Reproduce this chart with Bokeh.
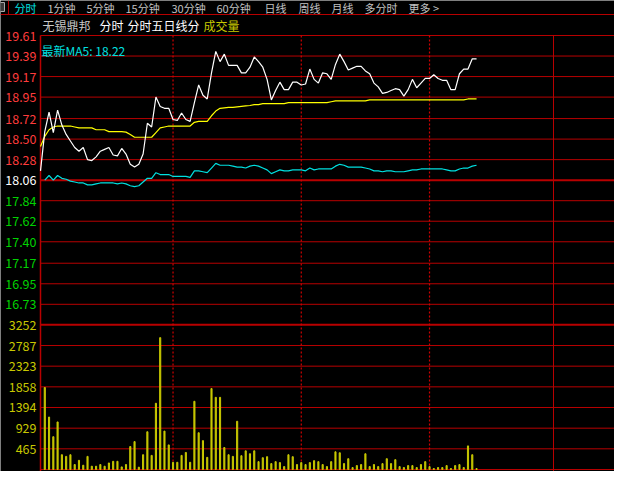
from bokeh.plotting import figure
from bokeh.models import Range1d
from bokeh.core.properties import value
from bokeh.embed import file_html
from bokeh.resources import INLINE

# ---- data ----
stock_name = "无锡鼎邦"
tabs = ["分时", "1分钟", "5分钟", "15分钟", "30分钟", "60分钟", "日线", "周线", "月线", "多分时", "更多 >"]
prev_close = 18.06

price_labels = ["19.61", "19.39", "19.17", "18.95", "18.72", "18.50", "18.28",
                "18.06", "17.84", "17.62", "17.40", "17.17", "16.95", "16.73"]
vol_labels = ["3252", "2787", "2323", "1858", "1394", "929", "465"]

# one point every 2 minutes, slot 0 = open
price = [18.16, 18.58, 18.79, 18.57, 18.81, 18.65, 18.55, 18.48, 18.41, 18.37,
         18.41, 18.28, 18.27, 18.31, 18.37, 18.39, 18.41, 18.33, 18.32, 18.40,
         18.34, 18.23, 18.20, 18.23, 18.34, 18.67, 18.63, 18.95, 18.85, 18.83,
         18.83, 18.71, 18.70, 18.78, 18.71, 18.69, 18.89, 19.08, 18.97, 18.93,
         19.21, 19.44, 19.33, 19.41, 19.29, 19.29, 19.29, 19.21, 19.21, 19.27,
         19.38, 19.33, 19.27, 19.14, 18.92, 19.02, 19.11, 19.03, 19.03, 19.11,
         19.11, 19.08, 19.09, 19.25, 19.14, 19.10, 19.21, 19.20, 19.14, 19.30,
         19.41, 19.33, 19.24, 19.26, 19.28, 19.28, 19.23, 19.20, 19.10, 19.06,
         18.99, 19.00, 19.02, 19.04, 19.03, 18.96, 19.03, 19.14, 19.05, 19.10,
         19.15, 19.15, 19.19, 19.15, 19.13, 19.13, 19.03, 19.03, 19.20, 19.25,
         19.25, 19.36, 19.36]

avg_price = [18.42, 18.53, 18.60, 18.63, 18.64, 18.64, 18.64, 18.64, 18.63, 18.62,
             18.62, 18.62, 18.62, 18.60, 18.60, 18.60, 18.58, 18.58, 18.58, 18.58,
             18.575, 18.55, 18.52, 18.52, 18.52, 18.52, 18.52, 18.57, 18.62, 18.63,
             18.64, 18.64, 18.64, 18.64, 18.64, 18.64, 18.68, 18.69, 18.69, 18.69,
             18.75, 18.80, 18.83, 18.835, 18.84, 18.84, 18.845, 18.85, 18.855, 18.86,
             18.87, 18.87, 18.88, 18.88, 18.88, 18.88, 18.88, 18.88, 18.89, 18.89,
             18.89, 18.89, 18.89, 18.89, 18.89, 18.89, 18.89, 18.89, 18.90, 18.91,
             18.91, 18.91, 18.91, 18.91, 18.91, 18.91, 18.91, 18.92, 18.92, 18.92,
             18.92, 18.92, 18.92, 18.92, 18.92, 18.92, 18.92, 18.92, 18.92, 18.92,
             18.92, 18.92, 18.92, 18.92, 18.92, 18.92, 18.92, 18.92, 18.92, 18.92,
             18.93, 18.93, 18.93]

# MA5 line, starts at slot 1
ma5 = [18.06, 18.11, 18.06, 18.11, 18.08, 18.07, 18.05, 18.04, 18.03, 18.03,
       18.01, 18.01, 18.02, 18.03, 18.03, 18.03, 18.03, 18.02, 18.03, 18.02,
       18.00, 17.99, 18.00, 18.04, 18.08, 18.08, 18.14, 18.12, 18.12, 18.12,
       18.10, 18.10, 18.10, 18.10, 18.09, 18.16, 18.16, 18.15, 18.14, 18.19,
       18.24, 18.22, 18.22, 18.22, 18.21, 18.20, 18.20, 18.19, 18.21, 18.22,
       18.21, 18.19, 18.17, 18.13, 18.15, 18.17, 18.16, 18.16, 18.17, 18.17,
       18.17, 18.16, 18.19, 18.17, 18.18, 18.18, 18.18, 18.18, 18.21, 18.23,
       18.22, 18.20, 18.20, 18.20, 18.20, 18.19, 18.18, 18.16, 18.16, 18.15,
       18.16, 18.16, 18.15, 18.15, 18.15, 18.16, 18.17, 18.17, 18.18, 18.18,
       18.18, 18.18, 18.18, 18.18, 18.17, 18.16, 18.16, 18.18, 18.19, 18.19,
       18.21, 18.22]

# volume, slots 1..102
volume = [1843, 1179, 737, 1069, 332, 295, 332, 111, 206, 96,
          295, 74, 74, 111, 74, 147, 184, 184, 59, 111,
          516, 627, 52, 332, 848, 317, 1489, 2964, 863, 553,
          162, 162, 317, 383, 162, 1533, 826, 649, 273, 1821,
          1622, 1622, 494, 332, 295, 1084, 310, 420, 354, 420,
          177, 265, 288, 133, 177, 155, 66, 332, 288, 111,
          155, 111, 155, 199, 177, 111, 66, 177, 398, 376,
          133, 243, 44, 88, 111, 354, 66, 111, 66, 133,
          243, 133, 221, 66, 44, 88, 88, 44, 111, 177,
          66, 22, 44, 44, 88, 22, 88, 111, 44, 531,
          332, 22]

# ---- layout ----
W, H = 614, 471
left_px, top_px, base_px = 40, 35, 469
slot_px = 4.275
row_px = (base_px - top_px) / 21.0
p_top = float(price_labels[0])
p_step = (p_top - prev_close) / 7
v_step = float(vol_labels[0]) / 7
sessions = [31, 61, 91]
day_end = 120

def px_x(cx):
    return (cx - left_px) / slot_px

def px_y(cy):
    return p_top - (cy - top_px) * p_step / row_px

RED = "#b80000"
FONT = value("Noto Sans CJK SC")

p = figure(width=W, height=H, output_backend="svg", toolbar_location=None,
           x_range=Range1d(px_x(0), px_x(W)), y_range=Range1d(px_y(H), px_y(0)),
           x_axis_location=None, y_axis_location=None, min_border=0,
           background_fill_color="#000000", border_fill_color="#000000",
           outline_line_color=None)
p.grid.visible = False
p.extra_y_ranges = {"vol": Range1d(-(H - base_px) * v_step / row_px,
                                   base_px * v_step / row_px)}

# grid
p_levels = [float(s) for s in price_labels]
p.segment(x0=0, x1=px_x(W), y0=p_levels, y1=p_levels, line_color=RED,
          line_width=[2 if abs(v - prev_close) < 1e-6 else 1 for v in p_levels])
v_levels = [float(s) for s in vol_labels] + [0]
p.segment(x0=0, x1=px_x(W), y0=v_levels, y1=v_levels, line_color=RED,
          line_width=[2] + [1] * (len(v_levels) - 1), y_range_name="vol")
p.segment(x0=[0, day_end], x1=[0, day_end], y0=p_top, y1=px_y(H),
          line_color=RED, line_width=[1.5, 1])
for s in sessions:
    p.line(x=[s, s], y=[p_top, px_y(base_px)], line_color="#d00000",
           line_width=1.2, line_dash="2 2")

# tab bar
p.segment(x0=px_x(0), x1=px_x(W), y0=px_y(14), y1=px_y(14), line_color=RED, line_width=1)
p.segment(x0=px_x(8), x1=px_x(8), y0=px_y(0), y1=px_y(14), line_color=RED, line_width=1)
p.quad(left=px_x(-6), right=px_x(4), top=px_y(2), bottom=px_y(11),
       fill_color="#3c3c3c", line_color="#a8a8a8", line_width=1)
tab_x = [14, 47, 86, 125, 171, 216, 264, 298, 331, 364, 408]
p.text(x=[px_x(v) for v in tab_x], y=px_y(7), text=tabs,
       text_color=["#00e0e0"] + ["#c0c0c0"] * (len(tabs) - 1),
       text_font=FONT, text_font_size="11px", text_baseline="middle")

# header
p.text(x=[px_x(v) for v in [42, 99, 127, 203]], y=px_y(25),
       text=[stock_name, "分时", "分时五日线分", "成交量"],
       text_color=["#c8c8c8", "#ffffff", "#ffffff", "#c8c800"],
       text_font=FONT, text_font_size="12px", text_baseline="middle")
p.text(x=px_x(41), y=px_y(top_px + 15 * row_px / 21), text=["最新MA5: %.2f" % ma5[-1]],
       text_color="#00e0e0", text_font=FONT, text_font_size="12px", text_baseline="middle")

# axis labels
p_colors = ["#ff3c3c" if v > prev_close + 1e-6 else ("#ffffff" if v > prev_close - 1e-6 else "#00d200")
            for v in p_levels]
p.text(x=px_x(36), y=p_levels, text=price_labels, text_color=p_colors,
       text_font=FONT, text_font_size="12.5px", text_align="right", text_baseline="middle")
p.text(x=px_x(36), y=[float(s) for s in vol_labels], text=vol_labels, text_color="#c8c800",
       text_font=FONT, text_font_size="12.5px", text_align="right", text_baseline="middle",
       y_range_name="vol")

# volume
p.vbar(x=list(range(1, len(volume) + 1)), top=volume, bottom=0, width=0.26,
       color="#c8c800", y_range_name="vol")

# price lines
p.line(list(range(len(avg_price))), avg_price, line_color="#ffff00", line_width=1.2)
p.line(list(range(1, len(ma5) + 1)), ma5, line_color="#00e0e0", line_width=1.2)
p.line(list(range(len(price))), price, line_color="#ffffff", line_width=1.2)

open("out.html", "w").write(file_html(p, INLINE))
